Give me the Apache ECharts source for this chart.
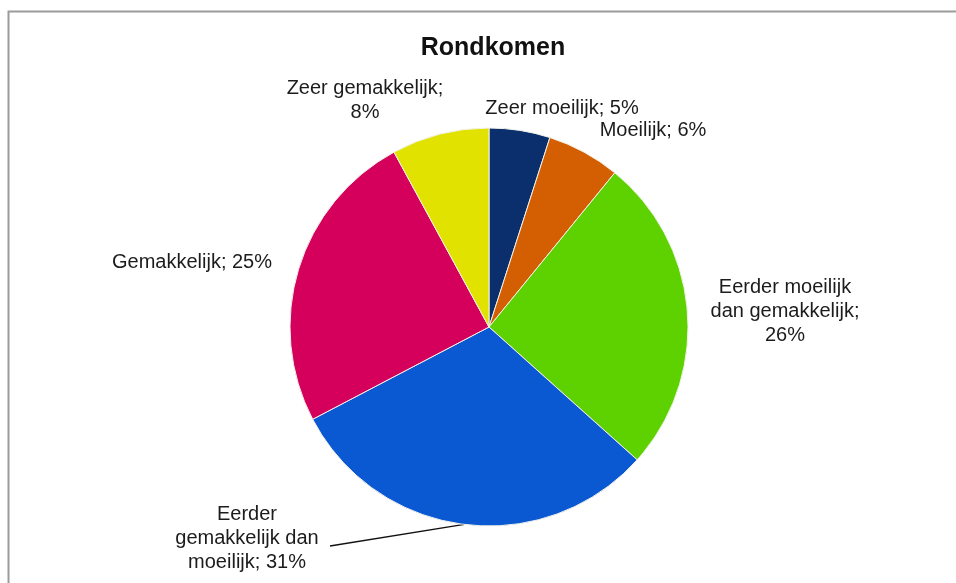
<!DOCTYPE html>
<html>
<head>
<meta charset="utf-8">
<title>Rondkomen</title>
<script src="https://cdn.jsdelivr.net/npm/echarts@6/dist/echarts.min.js"></script>
<style>
  html, body { margin: 0; padding: 0; background: #ffffff; }
  #chart { width: 956px; height: 583px; }
</style>
</head>
<body>
<div id="chart"></div>
<script>
// Survey answers: how easy is it to make ends meet (percentages)
const categories = [
  'Zeer moeilijk',
  'Moeilijk',
  'Eerder moeilijk dan gemakkelijk',
  'Eerder gemakkelijk dan moeilijk',
  'Gemakkelijk',
  'Zeer gemakkelijk'
];
const percentages = [5, 6, 26, 31, 25, 8];
// How each data label is broken over lines
const labelTexts = [
  'Zeer moeilijk; 5%',
  'Moeilijk; 6%',
  'Eerder moeilijk\ndan gemakkelijk;\n26%',
  'Eerder\ngemakkelijk dan\nmoeilijk; 31%',
  'Gemakkelijk; 25%',
  'Zeer gemakkelijk;\n8%'
];
const chartTitle = 'Rondkomen';

const sliceColors = ['#0b2f6c', '#d35f02', '#5dd200', '#0a59d3', '#d4005b', '#e2e200'];
// Where each label block is centred
const labelCenters = [
  [562, 108],
  [653, 130],
  [785, 311],
  [247, 538],
  [192, 262],
  [365, 100]
];

const chart = echarts.init(document.getElementById('chart'), null, { renderer: 'canvas' });

const labelFont = {
  fontFamily: 'Liberation Sans, Arial, sans-serif',
  fontSize: 20,
  lineHeight: 24,
  color: '#1c1c1c'
};

chart.setOption({
  animation: false,
  backgroundColor: '#ffffff',
  title: {
    text: chartTitle,
    left: 488,
    top: 31,
    textAlign: 'center',
    textStyle: {
      fontFamily: 'Liberation Sans, Arial, sans-serif',
      fontSize: 25,
      fontWeight: 'bold',
      color: '#111111'
    }
  },
  graphic: [{
    type: 'rect',
    shape: { x: 8.5, y: 11.5, width: 1200, height: 1000 },
    style: { fill: null, stroke: '#9b9b9b', lineWidth: 2 },
    silent: true
  }],
  series: [{
    type: 'pie',
    center: [489, 327],
    radius: 199,
    startAngle: 90,
    clockwise: true,
    avoidLabelOverlap: false,
    itemStyle: { borderColor: '#f2f2ea', borderWidth: 1 },
    label: Object.assign({
      show: true,
      position: 'outside',
      align: 'center',
      formatter: (p) => labelTexts[p.dataIndex]
    }, labelFont),
    labelLine: { show: false },
    labelLayout: (params) => {
      const c = labelCenters[params.dataIndex];
      const out = { x: c[0], y: c[1], align: 'center', verticalAlign: 'middle' };
      if (params.dataIndex === 3 && params.labelLinePoints) {
        const start = params.labelLinePoints[0];
        out.labelLinePoints = [start, [c[0] + 83, c[1] + 8], [c[0] + 83, c[1] + 8]];
      }
      return out;
    },
    data: categories.map((name, i) => ({
      name: name,
      value: percentages[i],
      itemStyle: { color: sliceColors[i] },
      labelLine: i === 3
        ? { show: true, length: 20, length2: 20, lineStyle: { color: '#111111', width: 1.3 } }
        : { show: false }
    }))
  }]
});
</script>
</body>
</html>
